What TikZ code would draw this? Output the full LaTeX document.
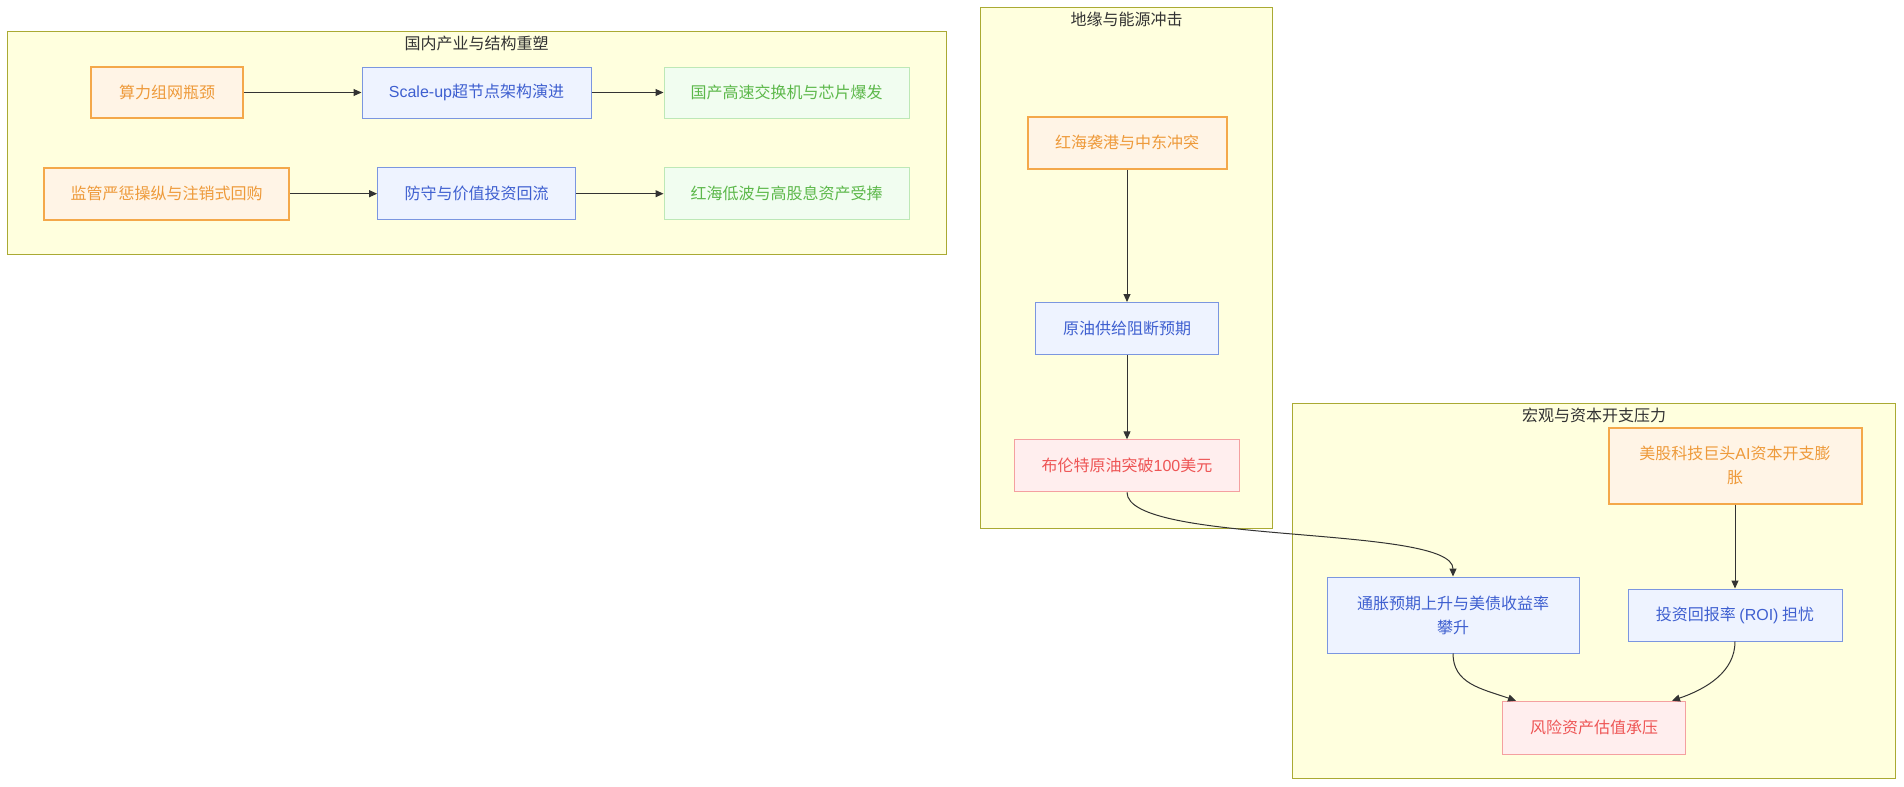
\documentclass[tikz,border=0pt]{standalone}
\usepackage{fontspec}
\setmainfont{Noto Sans CJK SC}
\newfontfamily\lat{Liberation Sans}
\usetikzlibrary{arrows.meta,calc}
\definecolor{clfill}{HTML}{FFFFDE}
\definecolor{cldraw}{HTML}{AAAA33}
\definecolor{tcol}{HTML}{333333}
\definecolor{ofill}{HTML}{FFF4E6}
\definecolor{odraw}{HTML}{F4A84A}
\definecolor{otext}{HTML}{EE9A3A}
\definecolor{bfill}{HTML}{EEF3FF}
\definecolor{bdraw}{HTML}{7B96E0}
\definecolor{btext}{HTML}{3E5FD0}
\definecolor{gfill}{HTML}{F1FDF0}
\definecolor{gdraw}{HTML}{BDE8B6}
\definecolor{gtext}{HTML}{5CB84A}
\definecolor{rfill}{HTML}{FFEEEE}
\definecolor{rdraw}{HTML}{F4A0A0}
\definecolor{rtext}{HTML}{EE5555}
\tikzset{
  cluster/.style={fill=clfill, draw=cldraw, line width=1pt},
  ctitle/.style={text=tcol, font=\fontsize{16}{20}\selectfont, inner sep=0pt},
  box/.style={rectangle, inner sep=0pt, align=center, font=\fontsize{16}{24}\selectfont},
  obox/.style={box, fill=ofill, draw=odraw, line width=2pt, text=otext},
  bbox/.style={box, fill=bfill, draw=bdraw, line width=1pt, text=btext},
  gbox/.style={box, fill=gfill, draw=gdraw, line width=1pt, text=gtext},
  rbox/.style={box, fill=rfill, draw=rdraw, line width=1pt, text=rtext},
  edge/.style={draw=tcol, line width=1pt, -{Triangle[length=8pt,width=7pt]}}
}
\begin{document}
\begin{tikzpicture}[x=1pt,y=-1pt]
\useasboundingbox (0,0) rectangle (1904,787);
\fill[white] (0,0) rectangle (1904,787);
% clusters
\draw[cluster] (7.5,31.5) rectangle (946,254);
\node[ctitle] (t1) at (476.5,43.5) {国内产业与结构重塑};
\draw[cluster] (980.5,7.5) rectangle (1272.5,528);
\node[ctitle] (t2) at (1126.5,19.5) {地缘与能源冲击};
\draw[cluster] (1292.5,403.5) rectangle (1895.5,778);
\node[ctitle] (t3) at (1594,415.5) {宏观与资本开支压力};
% cluster 1 nodes
\node[obox, minimum width=152pt, minimum height=51pt] (a1) at (167,92.5) {算力组网瓶颈};
\node[bbox, minimum width=229pt, minimum height=51pt] (a2) at (476.5,92.5) {{\lat Scale-up}超节点架构演进};
\node[gbox, minimum width=245pt, minimum height=51pt] (a3) at (786.5,92.5) {国产高速交换机与芯片爆发};
\node[obox, minimum width=245pt, minimum height=52pt] (b1) at (166.5,193.7) {监管严惩操纵与注销式回购};
\node[bbox, minimum width=198pt, minimum height=52pt] (b2) at (476.6,193.7) {防守与价值投资回流};
\node[gbox, minimum width=245pt, minimum height=52pt] (b3) at (786.5,193.7) {红海低波与高股息资产受捧};
% cluster 2 nodes
\node[obox, minimum width=199pt, minimum height=52pt] (c1) at (1127,142.7) {红海袭港与中东冲突};
\node[bbox, minimum width=183pt, minimum height=52pt] (c2) at (1127,328.5) {原油供给阻断预期};
\node[rbox, minimum width=225pt, minimum height=52pt] (c3) at (1127,465.8) {布伦特原油突破{\lat 100}美元};
% cluster 3 nodes
\node[obox, minimum width=253pt, minimum height=76pt] (d1) at (1735,465.5) {美股科技巨头{\lat AI}资本开支膨\\胀};
\node[bbox, minimum width=252pt, minimum height=76pt] (d2) at (1453,615) {通胀预期上升与美债收益率\\攀升};
\node[bbox, minimum width=214pt, minimum height=52pt] (d3) at (1735,615) {投资回报率 {\lat (ROI)} 担忧};
\node[rbox, minimum width=183pt, minimum height=53pt] (d4) at (1594,727.7) {风险资产估值承压};
% edges
\draw[edge] (a1) -- (a2);
\draw[edge] (a2) -- (a3);
\draw[edge] (b1) -- (b2);
\draw[edge] (b2) -- (b3);
\draw[edge] (c1) -- (c2);
\draw[edge] (c2) -- (c3);
\draw[edge] (d1) -- (d3);
\draw[edge] (c3.south) .. controls ($(c3.south)+(0,53)$) and ($(d2.north)+(0,-52)$) .. (d2.north);
\draw[edge] (d2.south) .. controls ($(d2.south)+(0,30)$) and ($([xshift=14pt]d4.north west)+(-35,-12)$) .. ([xshift=14pt]d4.north west);
\draw[edge] (d3.south) .. controls ($(d3.south)+(0,30)$) and ($([xshift=-14pt]d4.north east)+(35,-12)$) .. ([xshift=-14pt]d4.north east);
\end{tikzpicture}
\end{document}
